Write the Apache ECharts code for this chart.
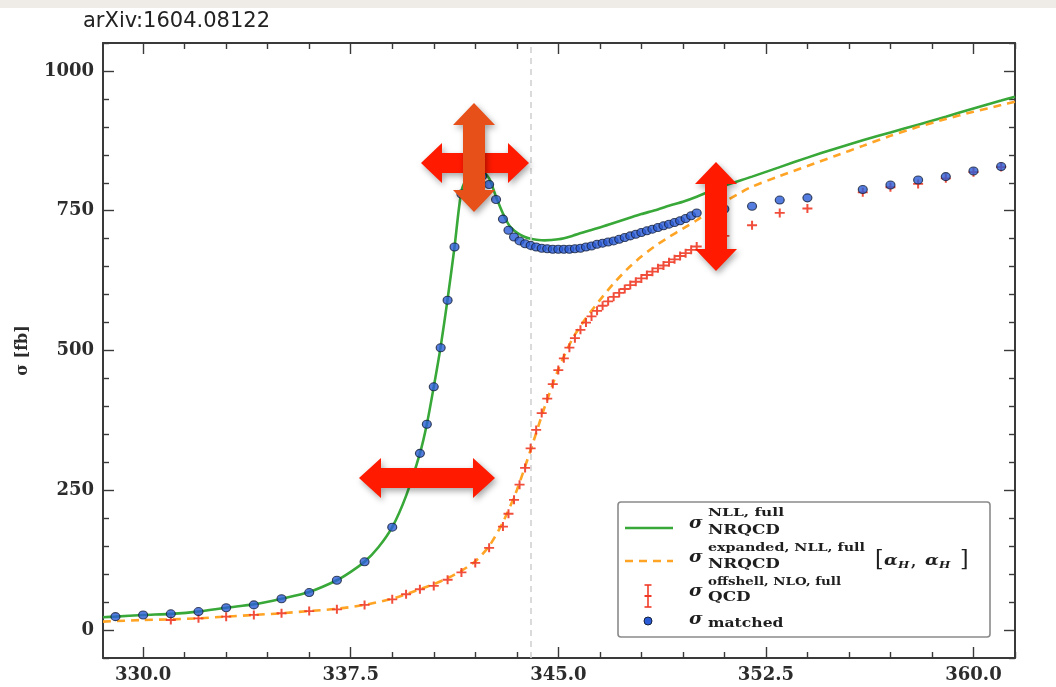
<!DOCTYPE html>
<html>
<head>
<meta charset="utf-8">
<script src="https://cdn.jsdelivr.net/npm/echarts@6/dist/echarts.min.js"></script>
<style>
  html, body { margin: 0; padding: 0; background: #ffffff; }
  #chart { width: 1056px; height: 687px; }
</style>
</head>
<body>
<div id="chart"></div>
<script>
// ---- data: sqrt(s) in GeV, cross sections in fb ----

// NRQCD NLL full (green line)
const nrqcdX = [328.55, 329, 330, 331, 332, 333, 334, 335, 336, 337, 337.5, 338, 338.5, 339, 339.5, 340, 340.25, 340.5, 340.75, 341, 341.25, 341.5, 341.75, 342, 342.25, 342.5, 342.75, 343, 343.25, 343.5, 343.75, 344, 344.5, 345, 345.5, 346, 346.5, 347, 347.5, 348, 348.5, 349, 349.5, 350, 351, 352, 353, 354, 355, 356, 357, 358, 359, 360, 361, 361.5];
const nrqcdY = [23, 24, 27, 29, 33, 40, 46, 56, 68, 89, 104, 122, 148, 184, 240, 316, 368, 435, 507, 592, 685, 785, 812, 822, 820, 808, 775, 745, 722, 711, 704, 700, 697, 699, 705, 713, 720, 728, 736, 744, 751, 759, 766, 775, 795, 811, 828, 845, 861, 876, 890, 904, 918, 933, 947, 954];

// NRQCD expanded NLL full [alpha_H, alpha_H] (orange dashed line)
const expandedX = [328.55, 330, 331, 332, 333, 334, 335, 336, 337, 338, 339, 339.5, 340, 340.5, 341, 341.5, 342, 342.5, 343, 343.5, 344, 344.5, 345, 345.5, 346, 346.5, 347, 347.5, 348, 348.5, 349, 349.5, 350, 350.5, 351, 351.5, 352, 353, 354, 355, 356, 357, 358, 359, 360, 361, 361.5];
const expandedY = [15, 18, 19, 21, 24, 27, 30, 34, 38, 45, 56, 64, 73, 82, 93, 106, 123, 150, 193, 250, 322, 398, 466, 520, 558, 590, 620, 646, 668, 687, 703, 718, 733, 750, 766, 780, 793, 812, 830, 848, 866, 884, 900, 914, 927, 939, 945];

// QCD off-shell NLO full (red points)
const qcdX = [331, 332, 333, 334, 335, 336, 337, 338, 339, 339.5, 340, 340.5, 341, 341.5, 342, 342.5, 343,
  343.2, 343.4, 343.6, 343.8, 344.0, 344.2, 344.4, 344.6, 344.8, 345.0, 345.2, 345.4, 345.6, 345.8,
  346.0, 346.2, 346.4, 346.6, 346.8, 347.0, 347.2, 347.4, 347.6, 347.8, 348.0, 348.2, 348.4, 348.6, 348.8,
  349.0, 349.2, 349.4, 349.6, 349.8, 350.0, 351, 352, 353, 354, 356, 357, 358, 359, 360, 361];
const qcdY = [18, 21, 24, 27, 30, 34, 37, 45, 55, 64, 73, 79, 90, 103, 120, 147, 185,
  208, 233, 260, 290, 325, 358, 388, 414, 440, 465, 486, 505, 522, 537,
  550, 561, 571, 580, 588, 596, 603, 610, 617, 623, 629, 635, 641, 647, 652,
  658, 663, 669, 674, 680, 686, 705, 724, 746, 754, 783, 792, 798, 808, 819, 828];

// matched (blue points)
const matchedX = [329, 330, 331, 332, 333, 334, 335, 336, 337, 338, 339,
  340.0, 340.25, 340.5, 340.75, 341.0, 341.25, 341.5, 341.75, 342.0, 342.25, 342.5, 342.75, 343.0,
  343.2, 343.4, 343.6, 343.8, 344.0, 344.2, 344.4, 344.6, 344.8, 345.0, 345.2, 345.4, 345.6, 345.8,
  346.0, 346.2, 346.4, 346.6, 346.8, 347.0, 347.2, 347.4, 347.6, 347.8, 348.0, 348.2, 348.4, 348.6, 348.8,
  349.0, 349.2, 349.4, 349.6, 349.8, 350.0, 351, 352, 353, 354, 356, 357, 358, 359, 360, 361];
const matchedY = [24, 27, 29, 33, 40, 45, 56, 67, 89, 122, 184,
  316, 368, 435, 505, 590, 685, 780, 806, 815, 812, 797, 770, 735,
  715, 703, 696, 691, 688, 685, 683, 682, 681, 681, 681, 681, 682, 683,
  685, 687, 690, 692, 694, 696, 699, 702, 705, 708, 711, 714, 717, 720, 723,
  726, 729, 732, 736, 741, 746, 753, 758, 769, 773, 788, 796, 805, 811, 821, 829];

// threshold marker (dashed vertical line)
const thresholdX = 344.0;

// axis ranges and ticks
const xRange = [328.55, 361.5];
const yRange = [-50, 1050];
const xMajorTicks = [330, 337.5, 345, 352.5, 360];
const xMinorTicks = [331.5, 333, 334.5, 336, 339, 340.5, 342, 343.5, 346.5, 348, 349.5, 351, 354, 355.5, 357, 358.5, 361.5];
const yMajorTicks = [0, 250, 500, 750, 1000];
const yMinorTicks = [-50, 50, 100, 150, 200, 300, 350, 400, 450, 550, 600, 650, 700, 800, 850, 900, 950, 1050];

const titleText = 'arXiv:1604.08122';
const yAxisName = 'σ [fb]';

// ---- helpers ----
const zip = (xs, ys) => xs.map((x, i) => [x, ys[i]]);

const AXIS_COLOR = '#3a3a3a';
const LABEL_FONT = 'DejaVu Serif';

function xAxisDef(pos, ticks, len, withLine, withLabels) {
  return {
    type: 'value', position: pos, min: xRange[0], max: xRange[1],
    axisLine: { show: withLine, onZero: false, lineStyle: { color: AXIS_COLOR, width: 2 } },
    axisTick: { show: true, inside: true, length: len, customValues: ticks, lineStyle: { color: AXIS_COLOR, width: 1.4 } },
    axisLabel: withLabels ? {
      show: true, customValues: ticks, margin: 8,
      formatter: v => Number(v).toFixed(1),
      fontFamily: LABEL_FONT, fontWeight: 'bold', fontSize: 18, color: '#2c2c2c'
    } : { show: false },
    splitLine: { show: false }
  };
}

function yAxisDef(pos, ticks, len, withLine, withLabels) {
  const ax = {
    type: 'value', position: pos, min: yRange[0], max: yRange[1],
    axisLine: { show: withLine, onZero: false, lineStyle: { color: AXIS_COLOR, width: 2 } },
    axisTick: { show: true, inside: true, length: len, customValues: ticks, lineStyle: { color: AXIS_COLOR, width: 1.4 } },
    axisLabel: withLabels ? {
      show: true, customValues: ticks, margin: 9,
      formatter: v => String(v),
      fontFamily: LABEL_FONT, fontWeight: 'bold', fontSize: 18, color: '#2c2c2c'
    } : { show: false },
    splitLine: { show: false }
  };
  if (withLabels) {
    ax.name = yAxisName;
    ax.nameLocation = 'middle';
    ax.nameRotate = 90;
    ax.nameGap = 72;
    ax.nameTextStyle = { fontFamily: LABEL_FONT, fontWeight: 'bold', fontSize: 16, color: '#2c2c2c' };
  }
  return ax;
}

// double-headed block arrow (annotation)
function hArrow(x1, x2, cy, sh, hh, hl, color) {
  return {
    type: 'polygon', z: 200,
    shape: { points: [[x1, cy], [x1 + hl, cy - hh], [x1 + hl, cy - sh], [x2 - hl, cy - sh], [x2 - hl, cy - hh], [x2, cy],
      [x2 - hl, cy + hh], [x2 - hl, cy + sh], [x1 + hl, cy + sh], [x1 + hl, cy + hh]] },
    style: { fill: color, shadowBlur: 6, shadowColor: 'rgba(0,0,0,0.35)', shadowOffsetX: 2, shadowOffsetY: 3 }
  };
}
function vArrow(cx, y1, y2, sh, hh, hl, color) {
  return {
    type: 'polygon', z: 201,
    shape: { points: [[cx, y1], [cx + hh, y1 + hl], [cx + sh, y1 + hl], [cx + sh, y2 - hl], [cx + hh, y2 - hl], [cx, y2],
      [cx - hh, y2 - hl], [cx - sh, y2 - hl], [cx - sh, y1 + hl], [cx - hh, y1 + hl]] },
    style: { fill: color, shadowBlur: 6, shadowColor: 'rgba(0,0,0,0.35)', shadowOffsetX: 2, shadowOffsetY: 3 }
  };
}

// legend text piece, stretched horizontally like the TeX typesetting
function tx(text, x, y, size, opts) {
  opts = opts || {};
  return {
    type: 'text', x: x, y: y, z: 301, scaleX: opts.scaleX || 1.4,
    style: {
      text: text, fill: '#1e1e1e',
      font: (opts.italic ? 'italic ' : '') + (opts.bold === false ? '' : 'bold ') + size + 'px ' + LABEL_FONT,
      align: 'left', verticalAlign: 'middle'
    }
  };
}

const GREEN = '#38a838';
const ORANGE = '#ffa424';
const RED = '#f03a26';
const BLUE = '#2a5cd8';

const plusPath = 'path://M0,4h10v2H0z M4,0h2v10H4z';

const legendX = 618, legendY = 502;
const legendGraphics = [
  { type: 'rect', z: 300, shape: { x: legendX, y: legendY, width: 372, height: 135, r: 3 },
    style: { fill: 'rgba(255,255,255,0.92)', stroke: '#8a8a8a', lineWidth: 1.6 } },
  { type: 'line', z: 301, shape: { x1: 625, y1: 528, x2: 673, y2: 528 }, style: { stroke: GREEN, lineWidth: 2.6 } },
  { type: 'line', z: 301, shape: { x1: 625, y1: 561, x2: 673, y2: 561 }, style: { stroke: ORANGE, lineWidth: 2.6, lineDash: [8, 6] } },
  { type: 'line', z: 301, shape: { x1: 648, y1: 585, x2: 648, y2: 607 }, style: { stroke: RED, lineWidth: 1.6 } },
  { type: 'line', z: 301, shape: { x1: 644.5, y1: 585, x2: 651.5, y2: 585 }, style: { stroke: RED, lineWidth: 1.6 } },
  { type: 'line', z: 301, shape: { x1: 644.5, y1: 607, x2: 651.5, y2: 607 }, style: { stroke: RED, lineWidth: 1.6 } },
  { type: 'line', z: 301, shape: { x1: 644.5, y1: 596, x2: 651.5, y2: 596 }, style: { stroke: RED, lineWidth: 2 } },
  { type: 'circle', z: 301, shape: { cx: 648, cy: 621, r: 4 }, style: { fill: BLUE, stroke: '#15203a', lineWidth: 1 } },

  tx('σ', 689, 524, 16, { italic: true, scaleX: 1.15 }),
  tx('NLL, full', 708, 513, 11),
  tx('NRQCD', 708, 531, 12),

  tx('σ', 689, 558, 16, { italic: true, scaleX: 1.15 }),
  tx('expanded, NLL, full', 708, 548, 11, { scaleX: 1.3 }),
  tx('NRQCD', 708, 565, 12),
  tx('[', 875, 560, 22, { bold: false, scaleX: 1 }),
  tx('α', 884, 561, 15, { italic: true, scaleX: 1.2 }),
  tx('H', 898, 565, 10, { italic: true, scaleX: 1.2 }),
  tx(',', 911, 562, 15, { scaleX: 1 }),
  tx('α', 925, 561, 15, { italic: true, scaleX: 1.2 }),
  tx('H', 939, 565, 10, { italic: true, scaleX: 1.2 }),
  tx(']', 960, 560, 22, { bold: false, scaleX: 1 }),

  tx('σ', 689, 592, 16, { italic: true, scaleX: 1.15 }),
  tx('offshell, NLO, full', 708, 582, 11, { scaleX: 1.22 }),
  tx('QCD', 708, 598, 12),

  tx('σ', 689, 620, 16, { italic: true, scaleX: 1.15 }),
  tx('matched', 708, 624, 12, { scaleX: 1.3 })
];

const option = {
  backgroundColor: '#ffffff',
  animation: false,
  grid: { left: 103, right: 41, top: 43, bottom: 29, containLabel: false },
  xAxis: [
    xAxisDef('bottom', xMajorTicks, 11, true, true),
    xAxisDef('bottom', xMinorTicks, 6, false, false),
    xAxisDef('top', xMajorTicks, 11, true, false),
    xAxisDef('top', xMinorTicks, 6, false, false)
  ],
  yAxis: [
    yAxisDef('left', yMajorTicks, 11, true, true),
    yAxisDef('left', yMinorTicks, 6, false, false),
    yAxisDef('right', yMajorTicks, 11, true, false),
    yAxisDef('right', yMinorTicks, 6, false, false)
  ],
  series: [
    {
      name: 'NRQCD NLL full', type: 'line', data: zip(nrqcdX, nrqcdY),
      xAxisIndex: 0, yAxisIndex: 0, showSymbol: false, smooth: 0.25, z: 3,
      lineStyle: { color: GREEN, width: 2.6 },
      markLine: {
        silent: true, symbol: ['none', 'none'], label: { show: false },
        lineStyle: { color: '#d2d2d2', type: [6, 5], width: 1.6 },
        data: [{ xAxis: thresholdX }]
      }
    },
    {
      name: 'NRQCD expanded NLL full', type: 'line', data: zip(expandedX, expandedY),
      xAxisIndex: 0, yAxisIndex: 0, showSymbol: false, smooth: 0.25, z: 4,
      lineStyle: { color: ORANGE, width: 2.6, type: [8, 6] }
    },
    {
      name: 'QCD offshell NLO full', type: 'scatter', data: zip(qcdX, qcdY),
      xAxisIndex: 0, yAxisIndex: 0, symbol: plusPath, symbolSize: [10, 9], z: 5,
      itemStyle: { color: RED, opacity: 0.9 }
    },
    {
      name: 'matched', type: 'scatter', data: zip(matchedX, matchedY),
      xAxisIndex: 0, yAxisIndex: 0, symbol: 'circle', symbolSize: [9, 8], z: 6,
      itemStyle: { color: BLUE, borderColor: '#15203a', borderWidth: 1.1 }
    }
  ],
  graphic: [
    { type: 'rect', z: 0, shape: { x: 0, y: 0, width: 1056, height: 8 }, style: { fill: '#efece7' } },
    { type: 'text', x: 83, y: 22, z: 10,
      style: { text: titleText, font: '21px DejaVu Sans', fill: '#222', align: 'left', verticalAlign: 'middle' } },
    hArrow(359, 495, 478, 10, 20, 22, '#ff1a00'),
    vArrow(716, 162, 271, 11, 21, 22, '#ff1a00'),
    hArrow(421, 529, 163, 10, 20, 21, '#ff1a00'),
    vArrow(474, 103, 212, 11, 21, 22, '#e8501a')
  ].concat(legendGraphics)
};

const chart = echarts.init(document.getElementById('chart'), null, { renderer: 'canvas' });
chart.setOption(option);
</script>
</body>
</html>
